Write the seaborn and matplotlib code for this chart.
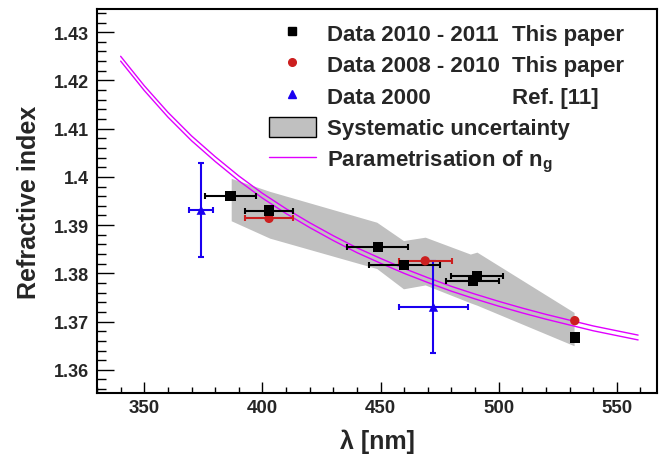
import numpy as np
import pandas as pd
import matplotlib.pyplot as plt
from matplotlib.lines import Line2D
from matplotlib.patches import Patch
from matplotlib.ticker import MultipleLocator
import seaborn as sns

# data 2010 - 2011 (black squares)
wl_new = [386.5, 402.8, 448.8, 460.0, 490.8, 489.0, 532.2]
n_new = [1.3960, 1.3930, 1.3855, 1.3818, 1.3795, 1.3785, 1.3667]
wlerr_new = [11.0, 10.0, 13.0, 15.0, 11.0, 11.2, 0.0]

# data 2008 - 2010 (red circles)
wl_old = [402.8, 468.9, 532.2]
n_old = [1.3914, 1.3826, 1.3702]
wlerr_old = [10.2, 11.3, 0.0]

# data 2000, ref [11] (blue triangles)
wl_ref = [374.1, 472.4]
n_ref = [1.3931, 1.3730]
wlerr_ref = [5.0, 14.6]
nerr_ref = [0.0097, 0.0095]

# systematic uncertainty band
band_wl = [386.8, 403.1, 448.4, 459.7, 468.9, 488.0, 490.8, 531.9]
band_hi = [1.3997, 1.3970, 1.3906, 1.3868, 1.3875, 1.3840, 1.3844, 1.3719]
band_lo = [1.3909, 1.3873, 1.3810, 1.3768, 1.3776, 1.3739, 1.3734, 1.3650]

# parametrisation of n_g (two curves)
par_wl = [340, 350, 360, 370, 380, 390, 400, 410, 420, 430, 440, 450,
          460, 470, 480, 490, 500, 510, 520, 530, 540, 550, 559]
par_n1 = [1.4250, 1.4189, 1.4134, 1.4085, 1.4042, 1.4002, 1.3966, 1.3934,
          1.3905, 1.3878, 1.3853, 1.3831, 1.3810, 1.3791, 1.3773, 1.3757,
          1.3742, 1.3728, 1.3715, 1.3703, 1.3691, 1.3681, 1.3672]
par_n2 = [1.4240, 1.4179, 1.4124, 1.4075, 1.4032, 1.3992, 1.3956, 1.3924,
          1.3895, 1.3868, 1.3843, 1.3821, 1.3800, 1.3781, 1.3763, 1.3747,
          1.3732, 1.3718, 1.3705, 1.3693, 1.3681, 1.3671, 1.3662]

y_ticks = [1.36, 1.37, 1.38, 1.39, 1.40, 1.41, 1.42, 1.43]
y_ticklabels = ['1.36', '1.37', '1.38', '1.39', '1.4', '1.41', '1.42', '1.43']
x_ticks = [350, 400, 450, 500, 550]

legend_labels = ['Data 2010 - 2011', 'Data 2008 - 2010', 'Data 2000',
                 'Systematic uncertainty', 'Parametrisation of n$_{\\mathbf{g}}$']
legend_refs = ['This paper', 'This paper', 'Ref. [11]']

red = '#cc1f1f'
blue = '#1a00f0'
magenta = '#e000ff'

sns.set_theme(style='ticks')
plt.rcParams['font.family'] = ['Liberation Sans', 'DejaVu Sans']
plt.rcParams['font.weight'] = 'bold'
plt.rcParams['mathtext.fontset'] = 'custom'
plt.rcParams['mathtext.bf'] = 'Liberation Sans:bold'
plt.rcParams['mathtext.rm'] = 'Liberation Sans:bold'

fig = plt.figure(figsize=(6.59, 4.56), dpi=100)
ax = fig.add_axes([97 / 659, 1 - 394 / 456, 560 / 659, 384 / 456])

# band
ax.fill_between(band_wl, band_lo, band_hi, color='#c0c0c0', lw=0, zorder=1)

# curves
sns.lineplot(x=par_wl, y=par_n1, ax=ax, color=magenta, lw=1, zorder=2)
sns.lineplot(x=par_wl, y=par_n2, ax=ax, color=magenta, lw=1, zorder=2)

# error bars
ax.errorbar(wl_ref, n_ref, xerr=wlerr_ref, yerr=nerr_ref, fmt='none',
            ecolor=blue, elinewidth=1.5, capsize=2, capthick=1.5, zorder=3)
ax.errorbar(wl_old, n_old, xerr=wlerr_old, fmt='none',
            ecolor=red, elinewidth=1.5, capsize=2, capthick=1.5, zorder=3)
ax.errorbar(wl_new, n_new, xerr=wlerr_new, fmt='none',
            ecolor='black', elinewidth=1.5, capsize=2, capthick=1.5, zorder=3)

# markers
sns.scatterplot(x=wl_ref, y=n_ref, ax=ax, marker='^', s=45, color=blue,
                edgecolor='none', zorder=5)
sns.scatterplot(x=wl_old, y=n_old, ax=ax, marker='o', s=45, color=red,
                edgecolor='none', zorder=5)
sns.scatterplot(x=wl_new, y=n_new, ax=ax, marker='s', s=55, color='black',
                edgecolor='none', zorder=6)

ax.set_xlim(330, 567)
ax.set_ylim(1.3552, 1.4348)
ax.set_xticks(x_ticks)
ax.set_xticklabels([str(v) for v in x_ticks])
ax.set_yticks(y_ticks)
ax.set_yticklabels(y_ticklabels)
ax.xaxis.set_minor_locator(MultipleLocator(10))
ax.yaxis.set_minor_locator(MultipleLocator(0.002))
ax.tick_params(which='both', direction='in', top=False, right=False,
               color='black', width=1)
ax.tick_params(axis='y', which='major', length=12, pad=5.5, labelsize=13)
ax.tick_params(axis='y', which='minor', length=6.5)
ax.tick_params(axis='x', which='major', length=8, pad=4, labelsize=13.5)
ax.tick_params(axis='x', which='minor', length=4)
for lab in ax.get_xticklabels() + ax.get_yticklabels():
    lab.set_fontweight('bold')
for sp in ax.spines.values():
    sp.set_visible(True)
    sp.set_linewidth(1.5)
    sp.set_color('black')

ax.set_xlabel('λ [nm]', fontsize=18, fontweight='bold')
ax.set_ylabel('Refractive index', fontsize=18, fontweight='bold')
ax.xaxis.set_label_coords(0.5, -0.092)
ax.yaxis.set_label_coords(-0.100, 0.5)

handles = [
    Line2D([], [], ls='none', marker='s', ms=5.5, color='black'),
    Line2D([], [], ls='none', marker='o', ms=5.5, color=red),
    Line2D([], [], ls='none', marker='^', ms=5.5, color=blue),
    Patch(facecolor='#c0c0c0', edgecolor='black', lw=1),
    Line2D([], [], color=magenta, lw=1),
]
leg = ax.legend(handles, legend_labels, loc='upper left',
                bbox_to_anchor=(0.3077, 0.966), frameon=False,
                prop={'family': 'Liberation Sans', 'weight': 'bold', 'size': 16},
                handlelength=2.08, handleheight=1.04, handletextpad=0.5,
                labelspacing=0.39, borderaxespad=0, borderpad=0)

fig.canvas.draw()
for txt, ref in zip(leg.get_texts()[:3], legend_refs):
    bb = txt.get_window_extent()
    yc = (bb.y0 + bb.y1) / 2 / fig.bbox.height
    fig.text(512 / 659, yc, ref, va='center', ha='left',
             fontsize=16, fontweight='bold', family='Liberation Sans')

fig.savefig('out.png', dpi=100)
